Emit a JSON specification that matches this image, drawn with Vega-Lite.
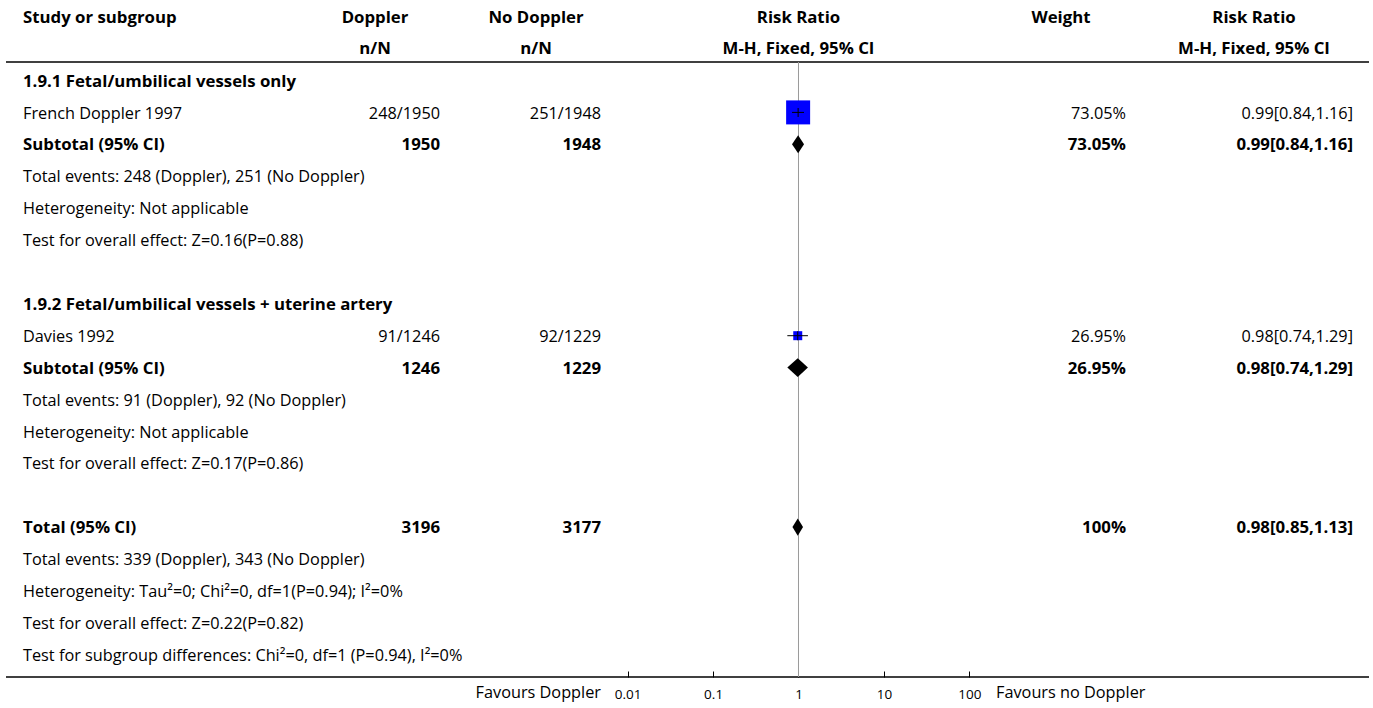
{
  "$schema": "https://vega.github.io/schema/vega-lite/v6.json",
  "padding": {"left": 5, "right": 0, "top": 10, "bottom": 0},
  "spacing": 0,
  "bounds": "flush",
  "background": "white",
  "datasets": {
    "rows": [
      {"r": 0, "type": "subgroup", "label": "1.9.1 Fetal/umbilical vessels only"},
      {"r": 1, "type": "study", "label": "French Doppler 1997", "exp": "248/1950", "ctl": "251/1948", "est": 0.99, "lo": 0.84, "hi": 1.16, "w": 73.05, "wt": "73.05%", "rr": "0.99[0.84,1.16]"},
      {"r": 2, "type": "subtotal", "label": "Subtotal (95% CI)", "exp": "1950", "ctl": "1948", "est": 0.99, "lo": 0.84, "hi": 1.16, "wt": "73.05%", "rr": "0.99[0.84,1.16]"},
      {"r": 3, "type": "note", "label": "Total events: 248 (Doppler), 251 (No Doppler)"},
      {"r": 4, "type": "note", "label": "Heterogeneity: Not applicable"},
      {"r": 5, "type": "note", "label": "Test for overall effect: Z=0.16(P=0.88)"},
      {"r": 7, "type": "subgroup", "label": "1.9.2 Fetal/umbilical vessels + uterine artery"},
      {"r": 8, "type": "study", "label": "Davies 1992", "exp": "91/1246", "ctl": "92/1229", "est": 0.98, "lo": 0.74, "hi": 1.29, "w": 26.95, "wt": "26.95%", "rr": "0.98[0.74,1.29]"},
      {"r": 9, "type": "subtotal", "label": "Subtotal (95% CI)", "exp": "1246", "ctl": "1229", "est": 0.98, "lo": 0.74, "hi": 1.29, "wt": "26.95%", "rr": "0.98[0.74,1.29]"},
      {"r": 10, "type": "note", "label": "Total events: 91 (Doppler), 92 (No Doppler)"},
      {"r": 11, "type": "note", "label": "Heterogeneity: Not applicable"},
      {"r": 12, "type": "note", "label": "Test for overall effect: Z=0.17(P=0.86)"},
      {"r": 14, "type": "total", "label": "Total (95% CI)", "exp": "3196", "ctl": "3177", "est": 0.98, "lo": 0.85, "hi": 1.13, "wt": "100%", "rr": "0.98[0.85,1.13]"},
      {"r": 15, "type": "note", "label": "Total events: 339 (Doppler), 343 (No Doppler)"},
      {"r": 16, "type": "note", "label": "Heterogeneity: Tau²=0; Chi²=0, df=1(P=0.94); I²=0%"},
      {"r": 17, "type": "note", "label": "Test for overall effect: Z=0.22(P=0.82)"},
      {"r": 18, "type": "note", "label": "Test for subgroup differences: Chi²=0, df=1 (P=0.94), I²=0%"}
    ]
  },
  "hconcat": [
    {
      "width": 304, "height": 615,
      "title": {"text": ["Study or subgroup", " "], "anchor": "start", "dx": 17},
      "data": {"name": "rows"},
      "layer": [
        {"data": {"values": [{}]}, "mark": {"type": "rule", "color": "#000", "strokeWidth": 1.6}, "encoding": {"y": {"datum": -0.58, "type": "quantitative", "scale": {"domain": [-0.58, 18.7], "reverse": true, "nice": false, "zero": false}, "axis": null}}},
        {"data": {"values": [{}]}, "mark": {"type": "rule", "color": "#000", "strokeWidth": 1.6}, "encoding": {"y": {"datum": 18.7, "type": "quantitative", "scale": {"domain": [-0.58, 18.7], "reverse": true, "nice": false, "zero": false}, "axis": null}}},
        {"transform": [{"filter": "datum.type == 'study' || datum.type == 'note'"}], "mark": {"type": "text", "align": "left", "dx": 17}, "encoding": {"x": {"value": 0}, "y": {"field": "r", "type": "quantitative", "scale": {"domain": [-0.58, 18.7], "reverse": true, "nice": false, "zero": false}, "axis": null}, "text": {"field": "label"}}},
        {"transform": [{"filter": "datum.type == 'subgroup' || datum.type == 'subtotal' || datum.type == 'total'"}], "mark": {"type": "text", "align": "left", "dx": 17, "fontWeight": "bold", "fontSize": 16.8}, "encoding": {"x": {"value": 0}, "y": {"field": "r", "type": "quantitative", "scale": {"domain": [-0.58, 18.7], "reverse": true, "nice": false, "zero": false}, "axis": null}, "text": {"field": "label"}}}
      ]
    },
    {
      "width": 130, "height": 615,
      "title": {"text": ["Doppler", "n/N"], "anchor": "middle"},
      "data": {"name": "rows"},
      "layer": [
        {"data": {"values": [{}]}, "mark": {"type": "rule", "color": "#000", "strokeWidth": 1.6}, "encoding": {"y": {"datum": -0.58, "type": "quantitative", "scale": {"domain": [-0.58, 18.7], "reverse": true, "nice": false, "zero": false}, "axis": null}}},
        {"data": {"values": [{}]}, "mark": {"type": "rule", "color": "#000", "strokeWidth": 1.6}, "encoding": {"y": {"datum": 18.7, "type": "quantitative", "scale": {"domain": [-0.58, 18.7], "reverse": true, "nice": false, "zero": false}, "axis": null}}},
        {"transform": [{"filter": "datum.type == 'study'"}], "mark": {"type": "text", "align": "right"}, "encoding": {"x": {"value": "width"}, "y": {"field": "r", "type": "quantitative", "scale": {"domain": [-0.58, 18.7], "reverse": true, "nice": false, "zero": false}, "axis": null}, "text": {"field": "exp"}}},
        {"transform": [{"filter": "datum.type == 'subtotal' || datum.type == 'total'"}], "mark": {"type": "text", "align": "right", "fontWeight": "bold", "fontSize": 16.8}, "encoding": {"x": {"value": "width"}, "y": {"field": "r", "type": "quantitative", "scale": {"domain": [-0.58, 18.7], "reverse": true, "nice": false, "zero": false}, "axis": null}, "text": {"field": "exp"}}}
      ]
    },
    {
      "width": 161, "height": 615,
      "title": {"text": ["No Doppler", "n/N"], "anchor": "middle", "dx": 15.5},
      "data": {"name": "rows"},
      "layer": [
        {"data": {"values": [{}]}, "mark": {"type": "rule", "color": "#000", "strokeWidth": 1.6}, "encoding": {"y": {"datum": -0.58, "type": "quantitative", "scale": {"domain": [-0.58, 18.7], "reverse": true, "nice": false, "zero": false}, "axis": null}}},
        {"data": {"values": [{}]}, "mark": {"type": "rule", "color": "#000", "strokeWidth": 1.6}, "encoding": {"y": {"datum": 18.7, "type": "quantitative", "scale": {"domain": [-0.58, 18.7], "reverse": true, "nice": false, "zero": false}, "axis": null}}},
        {"transform": [{"filter": "datum.type == 'study'"}], "mark": {"type": "text", "align": "right"}, "encoding": {"x": {"value": "width"}, "y": {"field": "r", "type": "quantitative", "scale": {"domain": [-0.58, 18.7], "reverse": true, "nice": false, "zero": false}, "axis": null}, "text": {"field": "ctl"}}},
        {"transform": [{"filter": "datum.type == 'subtotal' || datum.type == 'total'"}], "mark": {"type": "text", "align": "right", "fontWeight": "bold", "fontSize": 16.8}, "encoding": {"x": {"value": "width"}, "y": {"field": "r", "type": "quantitative", "scale": {"domain": [-0.58, 18.7], "reverse": true, "nice": false, "zero": false}, "axis": null}, "text": {"field": "ctl"}}},
        {"data": {"values": [{"t": "Favours Doppler"}]}, "mark": {"type": "text", "align": "right", "dy": 16}, "encoding": {"x": {"value": "width"}, "y": {"value": "height"}, "text": {"field": "t"}}}
      ]
    },
    {
      "width": 395, "height": 615,
      "title": {"text": ["Risk Ratio", "M-H, Fixed, 95% CI"], "anchor": "middle"},
      "data": {"name": "rows"},
      "layer": [
        {"data": {"values": [{}]}, "mark": {"type": "rule", "color": "#000", "strokeWidth": 1.6}, "encoding": {"y": {"datum": -0.58, "type": "quantitative", "scale": {"domain": [-0.58, 18.7], "reverse": true, "nice": false, "zero": false}, "axis": null}}},
        {"data": {"values": [{}]}, "mark": {"type": "rule", "color": "#000", "strokeWidth": 1.6}, "encoding": {"y": {"datum": 18.7, "type": "quantitative", "scale": {"domain": [-0.58, 18.7], "reverse": true, "nice": false, "zero": false}, "axis": null}}},
        {"data": {"values": [{}]}, "mark": {"type": "rule", "color": "#9a9a9a", "strokeWidth": 1}, "encoding": {"x": {"datum": 1, "type": "quantitative", "scale": {"type": "log", "domain": [0.004867, 205.5], "nice": false}, "axis": {"values": [0.01, 0.1, 1, 10, 100], "format": "~g", "tickSize": -6, "labelPadding": 16, "domain": false, "grid": false, "title": null, "labelFont": "Open Sans", "labelFontSize": 13.5, "labelColor": "#000", "tickColor": "#000", "labelFlush": false}}}},
        {"transform": [{"filter": "datum.type == 'study'"}], "mark": {"type": "point", "shape": "square", "filled": true, "color": "#0000ff", "opacity": 1}, "encoding": {"x": {"field": "est", "type": "quantitative", "scale": {"type": "log", "domain": [0.004867, 205.5], "nice": false}, "axis": {"values": [0.01, 0.1, 1, 10, 100], "format": "~g", "tickSize": -6, "labelPadding": 16, "domain": false, "grid": false, "title": null, "labelFont": "Open Sans", "labelFontSize": 13.5, "labelColor": "#000", "tickColor": "#000", "labelFlush": false}}, "y": {"field": "r", "type": "quantitative", "scale": {"domain": [-0.58, 18.7], "reverse": true, "nice": false, "zero": false}, "axis": null}, "size": {"field": "w", "type": "quantitative", "scale": {"domain": [26.95, 73.05], "range": [81, 576], "zero": false}, "legend": null}}},
        {"transform": [{"filter": "datum.type == 'study'"}], "mark": {"type": "rule", "color": "#000", "strokeWidth": 1}, "encoding": {"x": {"field": "lo", "type": "quantitative", "scale": {"type": "log", "domain": [0.004867, 205.5], "nice": false}, "axis": {"values": [0.01, 0.1, 1, 10, 100], "format": "~g", "tickSize": -6, "labelPadding": 16, "domain": false, "grid": false, "title": null, "labelFont": "Open Sans", "labelFontSize": 13.5, "labelColor": "#000", "tickColor": "#000", "labelFlush": false}}, "x2": {"field": "hi"}, "y": {"field": "r", "type": "quantitative", "scale": {"domain": [-0.58, 18.7], "reverse": true, "nice": false, "zero": false}, "axis": null}}},
        {"transform": [{"filter": "datum.type == 'study'"}], "mark": {"type": "tick", "orient": "vertical", "size": 9, "thickness": 1, "color": "#000", "opacity": 1}, "encoding": {"x": {"field": "est", "type": "quantitative", "scale": {"type": "log", "domain": [0.004867, 205.5], "nice": false}, "axis": {"values": [0.01, 0.1, 1, 10, 100], "format": "~g", "tickSize": -6, "labelPadding": 16, "domain": false, "grid": false, "title": null, "labelFont": "Open Sans", "labelFontSize": 13.5, "labelColor": "#000", "tickColor": "#000", "labelFlush": false}}, "y": {"field": "r", "type": "quantitative", "scale": {"domain": [-0.58, 18.7], "reverse": true, "nice": false, "zero": false}, "axis": null}}},
        {"transform": [{"filter": "datum.type == 'subtotal' || datum.type == 'total'"}], "mark": {"type": "point", "filled": true, "color": "#000", "opacity": 1, "size": 324}, "encoding": {"x": {"field": "est", "type": "quantitative", "scale": {"type": "log", "domain": [0.004867, 205.5], "nice": false}, "axis": {"values": [0.01, 0.1, 1, 10, 100], "format": "~g", "tickSize": -6, "labelPadding": 16, "domain": false, "grid": false, "title": null, "labelFont": "Open Sans", "labelFontSize": 13.5, "labelColor": "#000", "tickColor": "#000", "labelFlush": false}}, "y": {"field": "r", "type": "quantitative", "scale": {"domain": [-0.58, 18.7], "reverse": true, "nice": false, "zero": false}, "axis": null}, "shape": {"field": "r", "type": "nominal", "scale": {"domain": [2, 9, 14], "range": ["M-0.678,0L0,-1L0.656,0L0,1Z", "M-1.156,0L0,-1.05L1.133,0L0,1.05Z", "M-0.587,0L0,-0.95L0.588,0L0,0.95Z"]}, "legend": null}}}
      ]
    },
    {
      "width": 130, "height": 615,
      "title": {"text": ["Weight", " "], "anchor": "middle"},
      "data": {"name": "rows"},
      "layer": [
        {"data": {"values": [{}]}, "mark": {"type": "rule", "color": "#000", "strokeWidth": 1.6}, "encoding": {"y": {"datum": -0.58, "type": "quantitative", "scale": {"domain": [-0.58, 18.7], "reverse": true, "nice": false, "zero": false}, "axis": null}}},
        {"data": {"values": [{}]}, "mark": {"type": "rule", "color": "#000", "strokeWidth": 1.6}, "encoding": {"y": {"datum": 18.7, "type": "quantitative", "scale": {"domain": [-0.58, 18.7], "reverse": true, "nice": false, "zero": false}, "axis": null}}},
        {"transform": [{"filter": "datum.type == 'study'"}], "mark": {"type": "text", "align": "right"}, "encoding": {"x": {"value": "width"}, "y": {"field": "r", "type": "quantitative", "scale": {"domain": [-0.58, 18.7], "reverse": true, "nice": false, "zero": false}, "axis": null}, "text": {"field": "wt"}}},
        {"transform": [{"filter": "datum.type == 'subtotal' || datum.type == 'total'"}], "mark": {"type": "text", "align": "right", "fontWeight": "bold", "fontSize": 16.8}, "encoding": {"x": {"value": "width"}, "y": {"field": "r", "type": "quantitative", "scale": {"domain": [-0.58, 18.7], "reverse": true, "nice": false, "zero": false}, "axis": null}, "text": {"field": "wt"}}},
        {"data": {"values": [{"t": "Favours no Doppler"}]}, "mark": {"type": "text", "align": "left", "dy": 16}, "encoding": {"x": {"value": 0}, "y": {"value": "height"}, "text": {"field": "t"}}}
      ]
    },
    {
      "width": 243, "height": 615,
      "title": {"text": ["Risk Ratio", "M-H, Fixed, 95% CI"], "anchor": "middle", "dx": 6.5},
      "data": {"name": "rows"},
      "layer": [
        {"data": {"values": [{}]}, "mark": {"type": "rule", "color": "#000", "strokeWidth": 1.6}, "encoding": {"y": {"datum": -0.58, "type": "quantitative", "scale": {"domain": [-0.58, 18.7], "reverse": true, "nice": false, "zero": false}, "axis": null}}},
        {"data": {"values": [{}]}, "mark": {"type": "rule", "color": "#000", "strokeWidth": 1.6}, "encoding": {"y": {"datum": 18.7, "type": "quantitative", "scale": {"domain": [-0.58, 18.7], "reverse": true, "nice": false, "zero": false}, "axis": null}}},
        {"transform": [{"filter": "datum.type == 'study'"}], "mark": {"type": "text", "align": "right", "dx": -16}, "encoding": {"x": {"value": "width"}, "y": {"field": "r", "type": "quantitative", "scale": {"domain": [-0.58, 18.7], "reverse": true, "nice": false, "zero": false}, "axis": null}, "text": {"field": "rr"}}},
        {"transform": [{"filter": "datum.type == 'subtotal' || datum.type == 'total'"}], "mark": {"type": "text", "align": "right", "dx": -16, "fontWeight": "bold", "fontSize": 16.8}, "encoding": {"x": {"value": "width"}, "y": {"field": "r", "type": "quantitative", "scale": {"domain": [-0.58, 18.7], "reverse": true, "nice": false, "zero": false}, "axis": null}, "text": {"field": "rr"}}}
      ]
    }
  ],
  "config": {
    "view": {"stroke": null},
    "concat": {"spacing": 0},
    "text": {"font": "Open Sans", "fontSize": 16.3, "baseline": "middle", "color": "#000", "dy": 1.2},
    "title": {"font": "Open Sans", "fontSize": 16.8, "fontWeight": "bold", "color": "#000", "lineHeight": 31, "offset": 3, "frame": "group"}
  }
}
